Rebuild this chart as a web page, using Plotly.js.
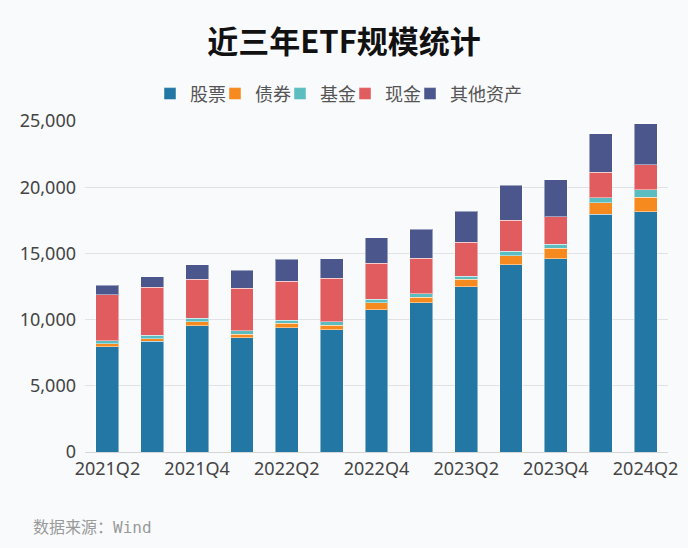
<!DOCTYPE html>
<html>
<head>
<meta charset="utf-8">
<script src="https://cdn.plot.ly/plotly-3.0.1.min.js"></script>
<style>
html,body{margin:0;padding:0;background:#f9fafc;}
#chart{width:688px;height:548px;}
</style>
</head>
<body>
<div id="chart"></div>
<script>
const categories = ["2021Q2","2021Q3","2021Q4","2022Q1","2022Q2","2022Q3","2022Q4","2023Q1","2023Q2","2023Q3","2023Q4","2024Q1","2024Q2"];
const stocks = [7950, 8360, 9530, 8630, 9380, 9230, 10740, 11280, 12470, 14130, 14590, 17940, 18160];
const bonds  = [230, 210, 300, 280, 330, 350, 530, 420, 580, 710, 800, 900, 1100];
const funds  = [230, 250, 270, 250, 250, 250, 260, 250, 230, 330, 300, 380, 560];
const cash   = [3460, 3610, 2950, 3200, 2940, 3300, 2740, 2690, 2570, 2340, 2090, 1910, 1860];
const others = [730, 800, 1110, 1360, 1660, 1460, 1900, 2190, 2340, 2620, 2790, 2920, 3120];
const seriesNames = ["股票","债券","基金","现金","其他资产"];
const colors = ["#2377a4","#f68a1e","#5bbdbf","#e05c5f","#4a568c"];
const seriesData = [stocks, bonds, funds, cash, others];
const tickLabels = categories.filter((c, i) => i % 2 === 0);

const font = '"Noto Sans CJK SC", "Noto Sans", sans-serif';
const numFont = '"Noto Sans", "Noto Sans CJK SC", sans-serif';
const legendIds = ['legend', 'legend2', 'legend3', 'legend4', 'legend5'];
const legendX = [0.1115, 0.2230, 0.3345, 0.4460, 0.5575];

const traces = seriesData.map((d, i) => ({
  type: 'bar',
  name: seriesNames[i],
  x: categories,
  y: d,
  legend: legendIds[i],
  marker: {color: colors[i], line: {color: 'rgba(255,255,255,0.45)', width: 1}},
  hoverinfo: 'x+y+name'
}));

const layout = {
  width: 688, height: 548,
  paper_bgcolor: '#f9fafc', plot_bgcolor: '#f9fafc',
  barmode: 'stack', bargap: 0.49,
  margin: {l: 85, r: 20, t: 121, b: 96},
  font: {family: font, color: '#444', size: 16},
  title: {text: '<b>近三年ETF规模统计</b>', x: 0.5, xanchor: 'center', y: 0.923, yanchor: 'middle',
          font: {family: font, size: 31, color: '#111'}},
  showlegend: true,
  xaxis: {type: 'category', tickmode: 'array', tickvals: tickLabels, ticktext: tickLabels,
          showline: true, linecolor: '#d6d6d6', linewidth: 1, ticks: '', showgrid: false,
          tickfont: {family: numFont, size: 18, color: '#444'}, range: [-0.5, 12.5], fixedrange: true},
  yaxis: {range: [0, 25000], tickvals: [0, 5000, 10000, 15000, 20000, 25000], tickformat: ',',
          showgrid: true, gridcolor: '#e2e2e6', gridwidth: 1, zeroline: false, showline: false,
          ticks: '', ticklabelstandoff: 8, tickfont: {family: numFont, size: 18, color: '#444'}},
  annotations: [{text: '数据来源：Wind', xref: 'paper', yref: 'paper', x: -0.092, y: -0.228,
                 xanchor: 'left', yanchor: 'middle', showarrow: false,
                 font: {family: '"DejaVu Sans Mono", "Noto Sans CJK SC", monospace', size: 16, color: '#9a9a9a'}}]
};
legendIds.forEach((id, i) => {
  layout[id] = {orientation: 'h', yanchor: 'bottom', y: 1.026, xanchor: 'left', x: legendX[i],
    font: {family: font, size: 18, color: '#555'}, itemwidth: 30, bgcolor: 'rgba(0,0,0,0)'};
});

Plotly.newPlot('chart', traces, layout, {displayModeBar: false, staticPlot: true});
</script>
</body>
</html>
